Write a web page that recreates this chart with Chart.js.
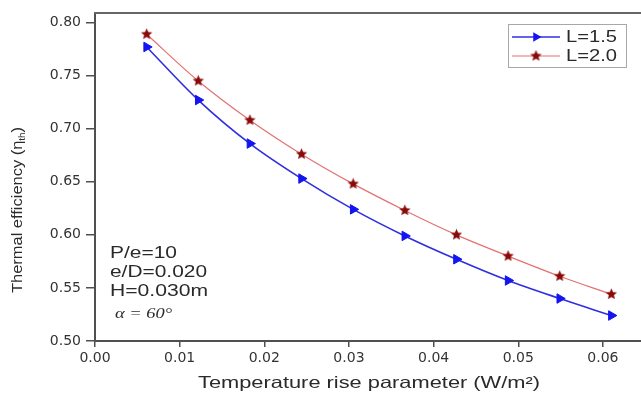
<!DOCTYPE html>
<html><head><meta charset="utf-8">
<script src="https://cdn.jsdelivr.net/npm/chart.js@4.4.1/dist/chart.umd.min.js"></script>
<style>html,body{margin:0;padding:0;background:#fff;overflow:hidden;}#wrap{width:641px;height:394px;position:relative;}</style>
</head><body><div id="wrap"><canvas id="c" width="641" height="394"></canvas></div>
<script>
// ---- data ----
const xValues = [0.0061, 0.0122, 0.0183, 0.0244, 0.0305, 0.0366, 0.0427, 0.0488, 0.0549, 0.0610];
const effL15 = [0.777, 0.727, 0.686, 0.653, 0.624, 0.599, 0.577, 0.557, 0.540, 0.524];
const effL20 = [0.789, 0.745, 0.708, 0.676, 0.648, 0.623, 0.600, 0.580, 0.561, 0.544];
const seriesLabels = ['L=1.5', 'L=2.0'];
const xTicks = [0.00, 0.01, 0.02, 0.03, 0.04, 0.05, 0.06];
const yTicks = [0.50, 0.55, 0.60, 0.65, 0.70, 0.75, 0.80];
const xTitle = 'Temperature rise parameter (W/m\u00B2)';
const yTitleMain = 'Thermal efficiency (\u03B7';
const yTitleSub = 'th';
const yTitleEnd = ')';
const notes = ['P/e=10', 'e/D=0.020', 'H=0.030m'];
const alphaNote = '\u03B1 = 60\u00B0';

// ---- styles ----
const BLUE_LINE = '#2f2fe0', BLUE_MARK = '#1414f0';
const RED_LINE = '#e27272', RED_MARK = '#8a0a0a';
const AXIS = '#505050', TEXT = '#2a2a2a';

function makeStar(size, color) {
  const c = document.createElement('canvas');
  c.width = size; c.height = size;
  const g = c.getContext('2d');
  const cx = size / 2, cy = size / 2, R = size / 2 - 0.5, r = R * 0.45;
  g.beginPath();
  for (let i = 0; i < 10; i++) {
    const rad = i % 2 === 0 ? R : r;
    const a = -Math.PI / 2 + i * Math.PI / 5;
    const px = cx + rad * Math.cos(a), py = cy + rad * Math.sin(a);
    i === 0 ? g.moveTo(px, py) : g.lineTo(px, py);
  }
  g.closePath();
  g.fillStyle = color; g.fill();
  return c;
}
const starImg = makeStar(13, RED_MARK);

function stretchText(ctx, text, x, y, font, width, align) {
  ctx.save();
  ctx.font = font;
  const w = ctx.measureText(text).width;
  ctx.translate(x, y);
  ctx.scale(width / w, 1);
  ctx.textAlign = align || 'left';
  ctx.textBaseline = 'middle';
  ctx.fillText(text, 0, 0);
  ctx.restore();
}

const decor = {
  id: 'decor',
  afterDraw(chart) {
    const ctx = chart.ctx, a = chart.chartArea;
    ctx.save();
    // top frame line
    ctx.strokeStyle = '#666'; ctx.lineWidth = 2;
    ctx.beginPath(); ctx.moveTo(a.left - 1, a.top); ctx.lineTo(641, a.top); ctx.stroke();

    ctx.fillStyle = TEXT;
    // x title
    stretchText(ctx, xTitle, 369, 383, '16.5px "Liberation Sans", Arial, sans-serif', 342, 'center');

    // y title (rotated, with subscript)
    ctx.save();
    ctx.translate(18, 210);
    ctx.rotate(-Math.PI / 2);
    const fMain = '15px "Liberation Sans", Arial, sans-serif';
    const fSub = '9px "Liberation Sans", Arial, sans-serif';
    ctx.font = fMain;
    const w1 = ctx.measureText(yTitleMain).width;
    const w3 = ctx.measureText(yTitleEnd).width;
    ctx.font = fSub;
    const w2 = ctx.measureText(yTitleSub).width;
    const total = w1 + w2 + w3;
    const target = 166;
    ctx.scale(target / total, 1);
    ctx.textBaseline = 'middle'; ctx.textAlign = 'left';
    let x0 = -total / 2;
    ctx.font = fMain; ctx.fillText(yTitleMain, x0, 0);
    ctx.font = fSub; ctx.fillText(yTitleSub, x0 + w1, 5);
    ctx.font = fMain; ctx.fillText(yTitleEnd, x0 + w1 + w2, 0);
    ctx.restore();

    // annotations
    const noteFont = '16px "Liberation Sans", Arial, sans-serif';
    const noteY = [254, 273, 292];
    const noteW = [67, 97, 98];
    notes.forEach((t, i) => stretchText(ctx, t, 110, noteY[i], noteFont, noteW[i], 'left'));
    stretchText(ctx, alphaNote, 115, 314, 'italic 14px "Liberation Serif", "Times New Roman", serif', 57, 'left');

    // legend
    ctx.strokeStyle = '#a8a8a8'; ctx.lineWidth = 1;
    ctx.strokeRect(508.5, 24.5, 118, 43);
    const ly = [37, 56];
    const styles = [
      { line: BLUE_LINE, width: 1.6, point: { pointStyle: 'triangle', rotation: 90, radius: 5.5 }, fill: BLUE_MARK },
      { line: RED_LINE, width: 1.2, point: { pointStyle: starImg, rotation: 0, radius: 6 }, fill: RED_MARK }
    ];
    styles.forEach((s, i) => {
      ctx.strokeStyle = s.line; ctx.lineWidth = s.width;
      ctx.beginPath(); ctx.moveTo(512, ly[i]); ctx.lineTo(560, ly[i]); ctx.stroke();
      ctx.fillStyle = s.fill; ctx.strokeStyle = s.fill; ctx.lineWidth = 1;
      Chart.helpers.drawPoint(ctx, s.point, 536, ly[i]);
      ctx.fillStyle = TEXT;
      stretchText(ctx, seriesLabels[i], 566, ly[i], '16.5px "Liberation Sans", Arial, sans-serif', 51, 'left');
    });
    ctx.restore();
  }
};

new Chart(document.getElementById('c'), {
  type: 'line',
  data: {
    datasets: [
      {
        label: seriesLabels[0],
        data: xValues.map((x, i) => ({ x, y: effL15[i] })),
        borderColor: BLUE_LINE, borderWidth: 1.6,
        pointStyle: 'triangle', pointRotation: 90, pointRadius: 5.5,
        pointBackgroundColor: BLUE_MARK, pointBorderColor: BLUE_MARK, pointBorderWidth: 1,
        cubicInterpolationMode: 'monotone', fill: false
      },
      {
        label: seriesLabels[1],
        data: xValues.map((x, i) => ({ x, y: effL20[i] })),
        borderColor: RED_LINE, borderWidth: 1.2,
        pointStyle: starImg, pointRadius: 6,
        pointBackgroundColor: RED_MARK, pointBorderColor: RED_MARK,
        cubicInterpolationMode: 'monotone', fill: false
      }
    ]
  },
  options: {
    responsive: false, animation: false, devicePixelRatio: 1,
    layout: { autoPadding: false, padding: { top: 13, right: 0, left: 0, bottom: 0 } },
    plugins: { legend: { display: false }, tooltip: { enabled: false } },
    scales: {
      x: {
        type: 'linear', min: 0, max: 0.0645,
        afterFit: s => { s.height = 53; s.paddingLeft = 0; s.paddingRight = 0; },
        afterBuildTicks: s => { s.ticks = xTicks.map(v => ({ value: v })); },
        ticks: {
          callback: v => Number(v).toFixed(2), autoSkip: false, maxRotation: 0,
          font: { family: '"DejaVu Sans", sans-serif', size: 14 }, color: '#333', padding: 3
        },
        grid: { drawOnChartArea: false, drawTicks: true, tickLength: 6, color: AXIS, lineWidth: 1.5 },
        border: { display: true, color: AXIS, width: 2 }
      },
      y: {
        type: 'linear', min: 0.50, max: 0.809,
        afterFit: s => { s.width = 95; s.paddingTop = 0; s.paddingBottom = 0; },
        afterBuildTicks: s => { s.ticks = yTicks.map(v => ({ value: v })); },
        ticks: {
          callback: v => Number(v).toFixed(2), autoSkip: false,
          font: { family: '"DejaVu Sans", sans-serif', size: 14 }, color: '#333', padding: 5
        },
        grid: { drawOnChartArea: false, drawTicks: true, tickLength: 9, color: AXIS, lineWidth: 1.5 },
        border: { display: true, color: AXIS, width: 2 }
      }
    }
  },
  plugins: [decor]
});
</script>
</body></html>
